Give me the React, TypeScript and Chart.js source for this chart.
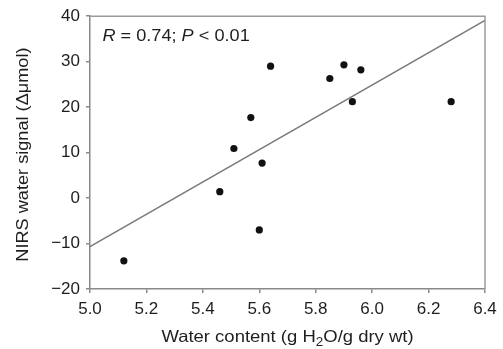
import React, { useEffect, useRef } from "react";
import { Chart, registerables } from "chart.js";

Chart.register(...registerables);

const waterContent = [5.12, 5.46, 5.51, 5.57, 5.64, 5.6, 5.61, 5.85, 5.9, 5.96, 5.93, 6.28];
const nirsSignal = [-13.8, 1.4, 10.9, 17.7, 29.0, -7.0, 7.7, 26.3, 29.3, 28.2, 21.2, 21.2];
const fitX = [5.0, 6.4];
const fitY = [-10.7, 39.1];
const xTicks = [5.0, 5.2, 5.4, 5.6, 5.8, 6.0, 6.2, 6.4];
const yTicks = [-20, -10, 0, 10, 20, 30, 40];

const FONT = "'Liberation Sans', Arial, sans-serif";
const TEXT = "#1e1e1e";

// draw runs of text with horizontal stretch; returns nothing
function drawRuns(ctx: any, runs: [string, string, number][], x: number, y: number, sx: number, center: boolean) {
  ctx.save();
  ctx.translate(x, y);
  ctx.scale(sx, 1);
  let total = 0;
  for (const [t, f] of runs) {
    ctx.font = f;
    total += ctx.measureText(t).width;
  }
  let cx = center ? -total / 2 : 0;
  for (const [t, f, dy] of runs) {
    ctx.font = f;
    ctx.fillText(t, cx, dy);
    cx += ctx.measureText(t).width;
  }
  ctx.restore();
}

const decorPlugin = {
  id: "decor",
  afterDraw(chart: any) {
    const { ctx, chartArea } = chart;
    const xs = chart.scales.x;
    const ys = chart.scales.y;
    ctx.save();
    ctx.strokeStyle = "#9a9a9a";
    ctx.lineWidth = 1.5;
    ctx.beginPath();
    ctx.moveTo(chartArea.left, chartArea.top);
    ctx.lineTo(chartArea.right, chartArea.top);
    ctx.lineTo(chartArea.right, chartArea.bottom);
    ctx.stroke();

    ctx.fillStyle = TEXT;
    ctx.textBaseline = "alphabetic";
    ctx.textAlign = "left";
    const n = `16.5px ${FONT}`;
    const i = `italic 16.5px ${FONT}`;
    drawRuns(
      ctx,
      [
        ["R", i, 0],
        [" = 0.74; ", n, 0],
        ["P", i, 0],
        [" < 0.01", n, 0],
      ],
      xs.getPixelForValue(5.044),
      ys.getPixelForValue(34.5),
      1.1,
      false
    );

    drawRuns(
      ctx,
      [
        ["Water content (g H", n, 0],
        ["2", `12px ${FONT}`, 4],
        ["O/g dry wt)", n, 0],
      ],
      (chartArea.left + chartArea.right) / 2,
      342,
      1.12,
      true
    );

    ctx.save();
    ctx.translate(28, (chartArea.top + chartArea.bottom) / 2 + 2);
    ctx.rotate(-Math.PI / 2);
    drawRuns(ctx, [["NIRS water signal (\u0394\u03bcmol)", n, 0]], 0, 0, 1.1, true);
    ctx.restore();
    ctx.restore();
  },
};

export default function App() {
  const ref = useRef<HTMLCanvasElement | null>(null);
  useEffect(() => {
    if (!ref.current) return;
    const chart = new Chart(ref.current, {
      type: "scatter",
      data: {
        datasets: [
          {
            type: "line",
            data: fitX.map((x, i) => ({ x, y: fitY[i] })),
            borderColor: "#7a7a7a",
            borderWidth: 1.5,
            pointRadius: 0,
            fill: false,
          } as any,
          {
            data: waterContent.map((x, i) => ({ x, y: nirsSignal[i] })),
            backgroundColor: "#111111",
            borderColor: "#111111",
            pointRadius: 3.6,
            borderWidth: 0,
          },
        ],
      },
      options: {
        animation: false,
        responsive: true,
        maintainAspectRatio: false,
        layout: { padding: { left: 0, top: 15, right: 18, bottom: 0 } },
        plugins: { legend: { display: false }, tooltip: { enabled: false } },
        scales: {
          x: {
            type: "linear",
            min: 5.0,
            max: 6.4,
            afterFit: (s: any) => {
              s.height = 60;
            },
            afterBuildTicks: (s: any) => {
              s.ticks = xTicks.map((v) => ({ value: v }));
            },
            ticks: {
              color: TEXT,
              font: { family: FONT, size: 17 },
              padding: 6,
              maxRotation: 0,
              callback: (v: any) => Number(v).toFixed(1),
            },
            grid: { drawOnChartArea: false, drawTicks: true, tickLength: 4, color: "#8a8a8a", lineWidth: 1.5 },
            border: { display: true, color: "#8a8a8a", width: 1.5 },
          },
          y: {
            type: "linear",
            min: -20,
            max: 40,
            afterFit: (s: any) => {
              s.width = 90;
            },
            afterBuildTicks: (s: any) => {
              s.ticks = yTicks.map((v) => ({ value: v }));
            },
            ticks: {
              color: TEXT,
              font: { family: FONT, size: 17 },
              padding: 6,
              callback: (v: any) => (Number(v) < 0 ? "\u2212" + Math.abs(Number(v)) : String(v)),
            },
            grid: { drawOnChartArea: false, drawTicks: true, tickLength: 4, color: "#8a8a8a", lineWidth: 1.5 },
            border: { display: true, color: "#8a8a8a", width: 1.5 },
          },
        },
      },
      plugins: [decorPlugin],
    });
    return () => chart.destroy();
  }, []);
  return (
    <div style={{ position: "fixed", left: 0, top: 0, width: 503, height: 349, background: "#fff" }}>
      <canvas ref={ref} />
    </div>
  );
}
